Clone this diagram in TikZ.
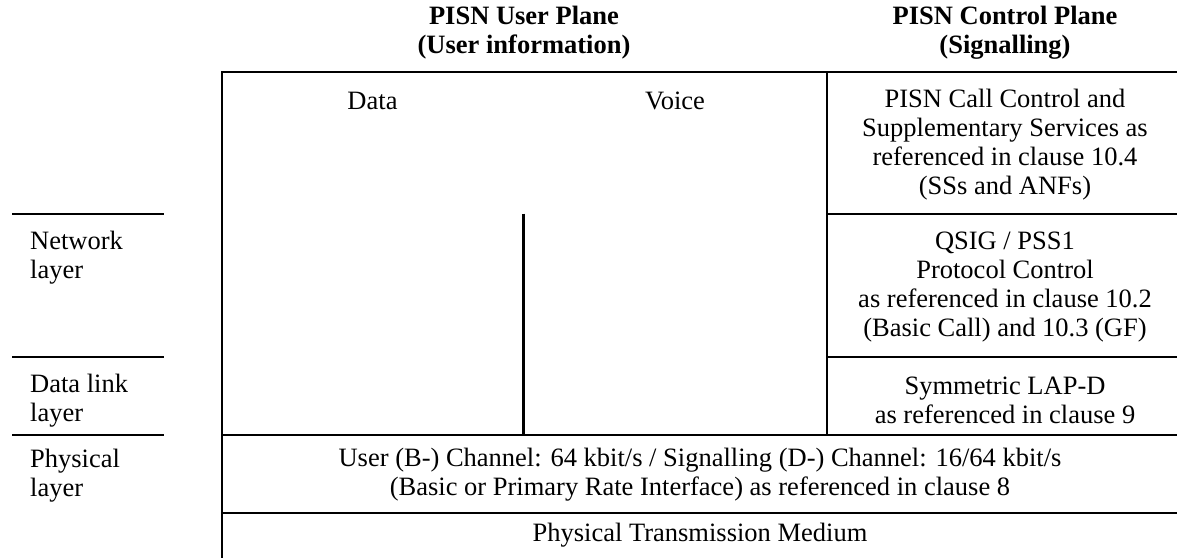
\documentclass[tikz,border=0pt]{standalone}
\usepackage{fontspec}
\setmainfont{Liberation Serif}
\usepackage{tikz}

\tikzset{
  txt/.style={font=\fontsize{26.5}{29}\selectfont, align=center, inner sep=0pt},
  hdr/.style={txt, font=\fontsize{26.5}{29}\selectfont\bfseries},
  layertxt/.style={txt, align=left, anchor=west},
  rule/.style={line width=2.2pt}
}

\begin{document}
\begin{tikzpicture}[x=1pt,y=-1pt]
\useasboundingbox (0,0) rectangle (1177,557);

\draw[rule] (222,560) -- (222,72) -- (1182,72);
\draw[rule] (222,435) -- (1182,435);
\draw[rule] (222,512.7) -- (1182,512.7);
\draw[rule] (827,72) -- (827,435);
\draw[rule] (523.5,213.7) -- (523.5,435);
\draw[rule] (827,213.7) -- (1182,213.7);
\draw[rule] (827,356.7) -- (1182,356.7);
\draw[rule] (12,213.7) -- (164,213.7);
\draw[rule] (12,356.7) -- (164,356.7);
\draw[rule] (12,435) -- (164,435);

\node[hdr] (userplane) at (524,32.5) {PISN User Plane\\(User information)};
\node[hdr] (ctrlplane) at (1005,32.5) {PISN Control Plane\\(Signalling)};

\node[txt] (data) at (372.5,101) {Data};
\node[txt] (voice) at (675,101) {Voice};

\node[txt] (callctrl) at (1005,144.5) {PISN Call Control and\\Supplementary Services as\\referenced in clause 10.4\\(SSs and ANFs)};
\node[txt] (qsig) at (1005,287) {QSIG / PSS1\\Protocol Control\\as referenced in clause 10.2\\(Basic Call) and 10.3 (GF)};
\node[txt] (lapd) at (1005,400.5) {Symmetric LAP-D\\as referenced in clause 9};

\node[txt] (channel) at (700,475) {User (B-) Channel: 64 kbit/s / Signalling (D-) Channel: 16/64 kbit/s\\(Basic or Primary Rate Interface) as referenced in clause 8};
\node[txt] (medium) at (700,535) {Physical Transmission Medium};

\node[layertxt] (network) at (30,258) {Network\\layer};
\node[layertxt] (datalink) at (30,400.5) {Data link\\layer};
\node[layertxt] (physical) at (30,476) {Physical\\layer};

\end{tikzpicture}
\end{document}
